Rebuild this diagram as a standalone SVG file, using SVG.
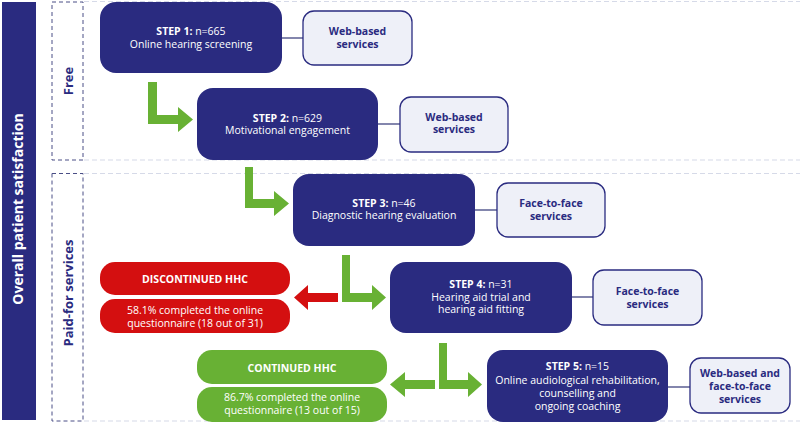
<svg xmlns="http://www.w3.org/2000/svg" width="800" height="424" viewBox="0 0 800 424">
<style>
  text { font-family: "Open Sans", "Liberation Sans", sans-serif; }
  .step { fill: #2a2b80; }
  .stxt { fill: #ffffff; font-size: 10.5px; text-anchor: middle; }
  .b { font-weight: bold; }
  .svc { fill: #eef0f8; stroke: #2a2b80; stroke-width: 1.3; }
  .svctxt { fill: #2a2b80; font-size: 10.5px; font-weight: bold; text-anchor: middle; }
  .red { fill: #d40f10; }
  .grn { fill: #68b134; }
  .wtxt { fill: #ffffff; font-size: 10.5px; text-anchor: middle; }
  .link { stroke: #5a5e92; stroke-width: 1.5; fill: none; }
  .hdash { stroke: #d6dae8; stroke-width: 1.2; stroke-dasharray: 5 3; fill: none; }
  .vbox { fill: none; stroke: #4a4e86; stroke-width: 1; stroke-dasharray: 4 3; }
  .side { fill: #2a2b80; font-size: 13px; font-weight: bold; text-anchor: middle; }
</style>
<rect width="800" height="424" fill="#ffffff"/>

<g id="side-bar">
  <rect x="2" y="2" width="34" height="418" fill="#2a2b80"/>
  <text class="b" transform="translate(23,209) rotate(-90)" font-size="14" fill="#ffffff" text-anchor="middle">Overall patient satisfaction</text>
</g>

<g id="sections">
  <path class="hdash" d="M84 1.5H800 M84 160H800 M84 173.5H800 M84 421H800"/>
  <rect class="vbox" x="52" y="2" width="31" height="158"/>
  <text class="side" transform="translate(73,81) rotate(-90)">Free</text>
  <rect class="vbox" x="52" y="173.5" width="31" height="247.5"/>
  <text class="side" transform="translate(73,293) rotate(-90)">Paid-for services</text>
</g>

<g id="connectors">
  <line class="link" x1="282" y1="38" x2="303" y2="38"/>
  <line class="link" x1="378" y1="124" x2="400" y2="124"/>
  <line class="link" x1="475" y1="210" x2="497" y2="210"/>
  <line class="link" x1="572" y1="297" x2="593" y2="297"/>
  <line class="link" x1="668" y1="387" x2="690" y2="387"/>
  <polygon class="grn" points="148,82 157,82 157,115 178,115 178,107 193,119.5 178,132 178,124 148,124"/>
  <polygon class="grn" points="245,167 253,167 253,199 274,199 274,191 289,203.5 274,216 274,208 245,208"/>
  <polygon class="grn" points="342,255 350,255 350,293 372,293 372,285 386,297.5 372,310 372,302 342,302"/>
  <polygon class="red" points="338,293 308,293 308,285 294,297.5 308,310 308,302 338,302"/>
  <polygon class="grn" points="439,343 447,343 447,380 468,380 468,372 482,384.5 468,397 468,389 439,389"/>
  <polygon class="grn" points="435,380 405,380 405,372 390,384.5 405,397 405,389 435,389"/>
</g>

<g id="step1">
  <rect class="step" x="100" y="2" width="182" height="71" rx="16"/>
  <text class="stxt" x="191" y="35"><tspan class="b">STEP 1:</tspan> n=665</text>
  <text class="stxt" x="191" y="47.5">Online hearing screening</text>
</g>
<g id="svc1">
  <rect class="svc" x="303" y="11" width="109" height="54" rx="11"/>
  <text class="svctxt" x="357.5" y="35">Web-based</text>
  <text class="svctxt" x="357.5" y="47.5">services</text>
</g>

<g id="step2">
  <rect class="step" x="197" y="88" width="181" height="72" rx="16"/>
  <text class="stxt" x="287.5" y="121.5"><tspan class="b">STEP 2:</tspan> n=629</text>
  <text class="stxt" x="287.5" y="134">Motivational engagement</text>
</g>
<g id="svc2">
  <rect class="svc" x="400" y="97" width="108" height="55" rx="11"/>
  <text class="svctxt" x="454" y="120.5">Web-based</text>
  <text class="svctxt" x="454" y="133">services</text>
</g>

<g id="step3">
  <rect class="step" x="293" y="174" width="182" height="72" rx="16"/>
  <text class="stxt" x="384" y="206.5"><tspan class="b">STEP 3:</tspan> n=46</text>
  <text class="stxt" x="384" y="219">Diagnostic hearing evaluation</text>
</g>
<g id="svc3">
  <rect class="svc" x="497" y="183" width="108" height="54" rx="11"/>
  <text class="svctxt" x="551" y="207">Face-to-face</text>
  <text class="svctxt" x="551" y="219.5">services</text>
</g>

<g id="step4">
  <rect class="step" x="390" y="262" width="182" height="71" rx="16"/>
  <text class="stxt" x="481" y="288"><tspan class="b">STEP 4:</tspan> n=31</text>
  <text class="stxt" x="481" y="300.5">Hearing aid trial and</text>
  <text class="stxt" x="481" y="313">hearing aid fitting</text>
</g>
<g id="svc4">
  <rect class="svc" x="593" y="270" width="109" height="55" rx="11"/>
  <text class="svctxt" x="647.5" y="295">Face-to-face</text>
  <text class="svctxt" x="647.5" y="307.5">services</text>
</g>

<g id="step5">
  <rect class="step" x="487" y="350" width="181" height="72" rx="16"/>
  <text class="stxt" x="577.5" y="370"><tspan class="b">STEP 5:</tspan> n=15</text>
  <text class="stxt" x="577.5" y="384">Online audiological rehabilitation,</text>
  <text class="stxt" x="577.5" y="397">counselling and</text>
  <text class="stxt" x="577.5" y="410">ongoing coaching</text>
</g>
<g id="svc5">
  <rect class="svc" x="690" y="358" width="100" height="55" rx="11"/>
  <text class="svctxt" x="740" y="377">Web-based and</text>
  <text class="svctxt" x="740" y="390">face-to-face</text>
  <text class="svctxt" x="740" y="403">services</text>
</g>

<g id="discontinued">
  <rect class="red" x="100" y="262" width="190" height="33" rx="15"/>
  <text class="wtxt b" x="195" y="283">DISCONTINUED HHC</text>
</g>
<g id="discontinued-result">
  <rect class="red" x="100" y="299" width="190" height="34" rx="15"/>
  <text class="wtxt" x="195" y="314">58.1% completed the online</text>
  <text class="wtxt" x="195" y="327">questionnaire (18 out of 31)</text>
</g>

<g id="continued">
  <rect class="grn" x="197" y="350" width="190" height="34" rx="15"/>
  <text class="wtxt b" x="292" y="372">CONTINUED HHC</text>
</g>
<g id="continued-result">
  <rect class="grn" x="197" y="387" width="190" height="35" rx="15"/>
  <text class="wtxt" x="292" y="401">86.7% completed the online</text>
  <text class="wtxt" x="292" y="413.5">questionnaire (13 out of 15)</text>
</g>
</svg>
